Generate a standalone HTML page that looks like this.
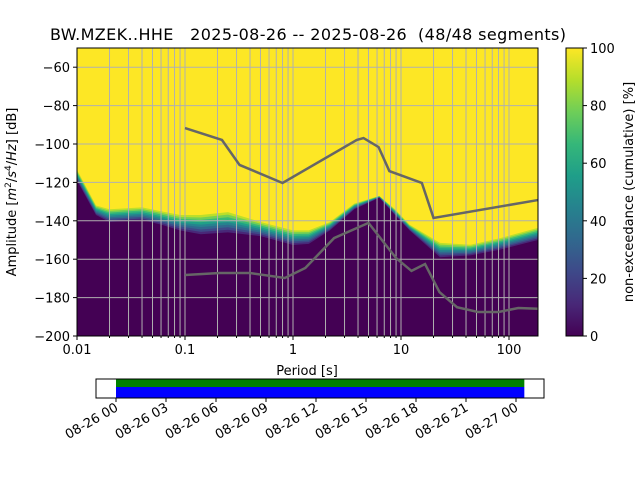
<!DOCTYPE html>
<html><head><meta charset="utf-8"><style>
body{margin:0;background:#fff;}
svg{display:block;font-family:"DejaVu Sans","Liberation Sans",sans-serif;}
</style></head><body>
<svg id="c" width="640" height="480" viewBox="0 0 640 480" xmlns="http://www.w3.org/2000/svg">
<text x="308" y="40" font-size="16" text-anchor="middle" textLength="516" style="white-space:pre" xml:space="preserve">BW.MZEK..HHE   2025-08-26 -- 2025-08-26  (48/48 segments)</text>
<g id="plot"></g>
<g id="cbar"></g>
<g id="tl"></g>
</svg>
<script>
// ---- data ----
const pdfPeriods = [0.01,0.015,0.02,0.04,0.06,0.09,0.14,0.25,0.5,1,1.4,2.2,3.7,6.3,8.8,12,23,44,83,185];
const pdfLowerDb = [-119,-137,-140.6,-139.6,-142,-145,-147,-146,-148,-152.6,-152,-145,-134,-128,-137,-145,-159,-158,-155,-150];
const pdfUpperDb = [-113.5,-132,-134,-133,-135,-137,-137,-135.5,-140.6,-145,-145,-140.6,-131,-127,-134,-142,-151.5,-152.5,-149,-143.7];
const nhnmPeriods = [0.1,0.22,0.32,0.8,3.9,4.5,6.2,7.8,15.6,20,185];
const nhnmDb = [-91.7,-97.9,-110.9,-120.3,-97.9,-96.9,-101.6,-114.1,-120.3,-138.5,-129.2];
const nlnmPeriods = [0.1,0.21,0.4,0.84,1.3,2.4,5,9,12.5,16.7,22.7,33,51.5,80,122,200];
const nlnmDb = [-168.2,-167.2,-167.2,-169.8,-164.6,-149,-141.1,-159.4,-166.1,-162.5,-177.1,-185,-187.5,-187.5,-185.4,-185.9];
const yTicks = [-60,-80,-100,-120,-140,-160,-180,-200];
const xTicks = [0.01,0.1,1,10,100];
const xTickLabels = ["0.01","0.1","1","10","100"];
const cbTicks = [0,20,40,60,80,100];
const timeTicks = ["08-26 00","08-26 03","08-26 06","08-26 09","08-26 12","08-26 15","08-26 18","08-26 21","08-27 00"];
const segStartHour = 0, segEndHour = 24.5;

const NS="http://www.w3.org/2000/svg";
const L=77,R=538,T=48,B=336;
const X=p=>L+(Math.log10(p)+2)*108;
const Y=d=>T+(-50-d)*1.92;
function mk(tag,attrs,parent){const e=document.createElementNS(NS,tag);for(const k in attrs)e.setAttribute(k,attrs[k]);parent.appendChild(e);return e;}
const plot=document.getElementById('plot');
const viridis=['#440154','#482878','#3e4989','#31688e','#26828e','#1f9e89','#35b779','#6ece58','#b5de2b','#fde725'];
function vir(t){const s=t*(viridis.length-1);const i=Math.min(Math.floor(s),viridis.length-2);const f=s-i;
 const a=viridis[i],b=viridis[i+1];const c=j=>Math.round(parseInt(a.substr(j,2),16)*(1-f)+parseInt(b.substr(j,2),16)*f);
 return `rgb(${c(1)},${c(3)},${c(5)})`;}
const clip=mk('clipPath',{id:'pc'},mk('defs',{},plot));mk('rect',{x:L,y:T,width:R-L,height:B-T},clip);
const g=mk('g',{'clip-path':'url(#pc)'},plot);
let bg=mk('rect',{x:L,y:T,width:R-L,height:B-T,fill:'#fde725'},g);


const N=8;
for(let k=0;k<=N;k++){const f=k/N;
 let pts=pdfPeriods.map((p,i)=>`${X(p)},${Y(pdfUpperDb[i]+(pdfLowerDb[i]-pdfUpperDb[i])*f)}`);
 pts.push(`${X(pdfPeriods[pdfPeriods.length-1])},${B+5}`);pts.push(`${X(pdfPeriods[0])},${B+5}`);
 const poly=mk('polygon',{points:pts.join(' '),fill:vir(0.9*(1-f))},g);
 
 
}
// grid
for(let d=-2;d<=2;d++)for(let m=1;m<=9;m++){const p=m*Math.pow(10,d);const x=X(p);if(x<L||x>R)continue;
 mk('line',{x1:x,x2:x,y1:T,y2:B,stroke:'#b0b0b0','stroke-width':1},g);}
yTicks.forEach(v=>mk('line',{x1:L,x2:R,y1:Y(v),y2:Y(v),stroke:'#b0b0b0','stroke-width':1},g));
// noise models
const hn=mk('polyline',{points:nhnmPeriods.map((p,i)=>`${X(p)},${Y(nhnmDb[i])}`).join(' '),fill:'none',stroke:'#666','stroke-width':2.5},g);

const ln=mk('polyline',{points:nlnmPeriods.map((p,i)=>`${X(p)},${Y(nlnmDb[i])}`).join(' '),fill:'none',stroke:'#666','stroke-width':2.5},g);

mk('rect',{x:L,y:T,width:R-L,height:B-T,fill:'none',stroke:'#000','stroke-width':1},plot);
// axes ticks
yTicks.forEach(v=>{const y=Y(v);mk('line',{x1:L-4,x2:L,y1:y,y2:y,stroke:'#000'},plot);
 const t=mk('text',{x:L-7,y:y+5,'font-size':13,'text-anchor':'end'},plot);t.textContent=String(v).replace('-','\u2212');
 });
xTicks.forEach((v,i)=>{const x=X(v);mk('line',{x1:x,x2:x,y1:B,y2:B+4,stroke:'#000'},plot);
 const t=mk('text',{x:x,y:B+18,'font-size':13,'text-anchor':'middle'},plot);t.textContent=xTickLabels[i];
 });
for(let d=-2;d<=2;d++)for(let m=2;m<=9;m++){const x=X(m*Math.pow(10,d));if(x>R)continue;mk('line',{x1:x,x2:x,y1:B,y2:B+2,stroke:'#000'},plot);}
let xl=mk('text',{x:307,y:375,'font-size':13,'text-anchor':'middle'},plot);xl.textContent='Period [s]';

let yl=mk('text',{transform:'translate(16,192) rotate(-90)','font-size':13,'text-anchor':'middle'},plot);
yl.innerHTML='Amplitude [<tspan font-style="italic">m</tspan><tspan font-size="9" dy="-5">2</tspan><tspan dy="5">/</tspan><tspan font-style="italic">s</tspan><tspan font-size="9" dy="-5">4</tspan><tspan dy="5">/</tspan><tspan font-style="italic">Hz</tspan>] [dB]';

// colorbar
const cb=document.getElementById('cbar');
const lg=mk('linearGradient',{id:'vg',x1:0,y1:1,x2:0,y2:0},mk('defs',{},cb));
viridis.forEach((c,i)=>mk('stop',{offset:i/(viridis.length-1),'stop-color':c},lg));
mk('rect',{x:566,y:T,width:17,height:B-T,fill:'url(#vg)',stroke:'#000','stroke-width':1},cb);
cbTicks.forEach(v=>{const y=B-(B-T)*v/100;mk('line',{x1:583,x2:587,y1:y,y2:y,stroke:'#000'},cb);
 const t=mk('text',{x:590,y:y+5,'font-size':13},cb);t.textContent=v;
 });
let cl=mk('text',{transform:'translate(633,192) rotate(-90)','font-size':13,'text-anchor':'middle'},cb);
cl.textContent='non-exceedance (cumulative) [%]';
// timeline
const tl=document.getElementById('tl');
const TX=h=>116+h*(50/3);
const gr=mk('rect',{x:TX(segStartHour),y:379,width:TX(segEndHour)-TX(segStartHour),height:8,fill:'#008000'},tl);

const bl=mk('rect',{x:TX(segStartHour),y:387,width:TX(segEndHour)-TX(segStartHour),height:11,fill:'#0000ff'},tl);

mk('rect',{x:96,y:379,width:448,height:19,fill:'none',stroke:'#000'},tl);
timeTicks.forEach((s,i)=>{const x=TX(i*3);mk('line',{x1:x,x2:x,y1:398,y2:402,stroke:'#000'},tl);
 const t=mk('text',{x:x+3,y:410,'font-size':13,'text-anchor':'end',transform:`rotate(-30 ${x+3} 410)`},tl);t.textContent=s;
 });
</script>
</body></html>
